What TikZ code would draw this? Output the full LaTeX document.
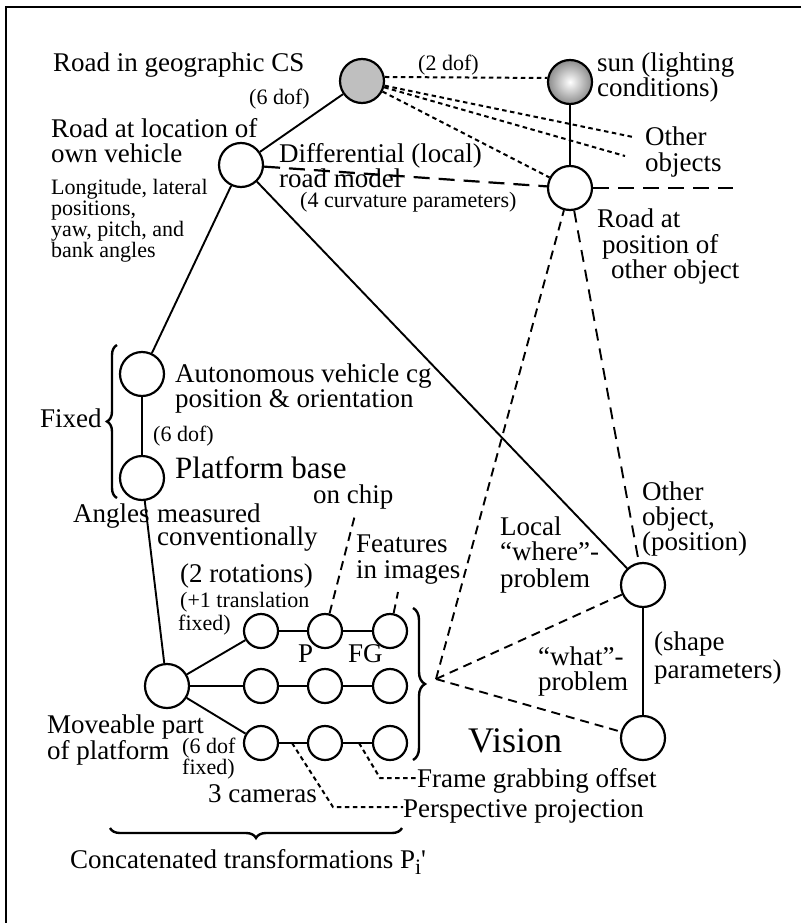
\documentclass[tikz,border=0pt]{standalone}
\usepackage{fontspec}
\setmainfont{Liberation Serif}
\usetikzlibrary{decorations.pathreplacing}

\begin{document}
\begin{tikzpicture}[x=1pt,y=-1pt,
  bignode/.style={circle, draw, line width=2.2pt, minimum size=44pt, inner sep=0pt, fill=white},
  camnode/.style={circle, draw, line width=2.2pt, minimum size=34pt, inner sep=0pt, fill=white},
  link/.style={line width=1.9pt},
  roadlink/.style={line width=2.2pt, dash pattern=on 16pt off 9pt},
  farlink/.style={line width=1.9pt, dash pattern=on 12pt off 8pt},
  vislink/.style={line width=1.9pt, dash pattern=on 9pt off 6pt},
  dotlink/.style={line width=2pt, dash pattern=on 4.5pt off 3.5pt},
  bracestyle/.style={line width=2.4pt, decorate},
  lbl/.style={inner sep=0pt, anchor=base west, font=\fontsize{27}{27}\selectfont},
  small/.style={lbl, font=\fontsize{22}{22}\selectfont},
  big/.style={lbl, font=\fontsize{31}{31}\selectfont},
  huge/.style={lbl, font=\fontsize{36}{36}\selectfont}]

\useasboundingbox (0,0) rectangle (801,923);
\draw[line width=2pt] (801,7) -- (6,7) -- (6,923);

% ---- state nodes ----
\node[bignode, fill=black!25] (geo) at (362,81) {};
\node[bignode, inner color=white, outer color=black!45] (sun) at (570,82) {};
\node[bignode] (roadV) at (241,165) {};
\node[bignode] (roadO) at (570,188) {};
\node[bignode] (cg) at (142,374) {};
\node[bignode] (base) at (142,478) {};
\node[bignode] (move) at (167,686) {};
\node[bignode] (obj) at (643,585) {};
\node[bignode] (shape) at (643,738) {};

% ---- camera chains ----
\node[camnode] (c11) at (261,631) {};
\node[camnode] (c12) at (325,631) {};
\node[camnode] (c13) at (390,631) {};
\node[camnode] (c21) at (261,686) {};
\node[camnode] (c22) at (325,686) {};
\node[camnode] (c23) at (390,686) {};
\node[camnode] (c31) at (261,743) {};
\node[camnode] (c32) at (325,743) {};
\node[camnode] (c33) at (390,743) {};

% ---- free ends ----
\coordinate (roadEnd) at (733,188);
\coordinate (othA) at (633,137);
\coordinate (othB) at (625,156);
\coordinate (vis) at (436,679);
\coordinate (chipEnd) at (355,515);
\coordinate (featEnd) at (398,592);
\coordinate (m1) at (292,743);
\coordinate (k1) at (333,807);
\coordinate (m2) at (359,743);
\coordinate (k2) at (380,778);

% ---- labels ----
\node[lbl] (tGeo) at (53,72) {Road in geographic CS};
\node[small] (tSix) at (249,105) {(6 dof)};
\node[lbl] (tOwnA) at (51,137) {Road at location of};
\node[lbl] (tOwnB) at (51,162) {own vehicle};
\node[small] (tLonA) at (51,194) {Longitude, lateral};
\node[small] (tLonB) at (51,215) {positions,};
\node[small] (tLonC) at (51,236) {yaw, pitch, and};
\node[small] (tLonD) at (51,257) {bank angles};
\node[lbl] (tDifA) at (279,162) {Differential (local)};
\node[lbl] (tDifB) at (279,187) {road model};
\node[small] (tCurv) at (300,207) {(4 curvature parameters)};
\node[small] (tTwo) at (418,71) {(2 dof)};
\node[lbl] (tSunA) at (597,72) {sun (lighting};
\node[lbl] (tSunB) at (597,97) {conditions)};
\node[lbl] (tOthA) at (645,146) {Other};
\node[lbl] (tOthB) at (645,171) {objects};
\node[lbl] (tRoA) at (597,227) {Road at};
\node[lbl] (tRoB) at (602,253) {position of};
\node[lbl] (tRoC) at (611,278) {other object};
\node[lbl] (tCgA) at (175,382) {Autonomous vehicle cg};
\node[lbl] (tCgB) at (175,407) {position \& orientation};
\node[lbl] (tFix) at (40,427) {Fixed};
\node[small] (tSixB) at (153,441) {(6 dof)};
\node[big] (tBase) at (175,478) {Platform base};
\node[lbl] (tChip) at (313,503) {on chip};
\node[lbl] (tAngA) at (73,522) {Angles};
\node[lbl] (tAngB) at (157,522) {measured};
\node[lbl] (tAngC) at (157,545) {conventionally};
\node[lbl] (tFeaA) at (356,552) {Features};
\node[lbl] (tFeaB) at (356,578) {in images};
\node[lbl] (tRot) at (180,582) {(2 rotations)};
\node[small] (tTraA) at (180,607) {(+1 translation};
\node[small] (tTraB) at (178,630) {fixed)};
\node[lbl] (tP) at (298,662) {P};
\node[lbl] (tFG) at (348,662) {FG};
\node[lbl] (tMovA) at (47,733) {Moveable part};
\node[lbl] (tMovB) at (47,759) {of platform};
\node[small] (tDofA) at (182,753) {(6 dof};
\node[small] (tDofB) at (182,774) {fixed)};
\node[lbl] (tCam) at (208,802) {3 cameras};
\node[lbl] (tConc) at (70,868) {Concatenated transformations P\raisebox{-6pt}{\fontsize{22}{22}\selectfont i}\textquotesingle};
\node[lbl] (tLocA) at (500,535) {Local};
\node[lbl] (tLocB) at (500,560) {“where”-};
\node[lbl] (tLocC) at (500,587) {problem};
\node[lbl] (tObjA) at (642,500) {Other};
\node[lbl] (tObjB) at (642,525) {object,};
\node[lbl] (tObjC) at (642,550) {(position)};
\node[lbl] (tWhatA) at (538,665) {“what”-};
\node[lbl] (tWhatB) at (538,690) {problem};
\node[lbl] (tShA) at (654,650) {(shape};
\node[lbl] (tShB) at (654,678) {parameters)};
\node[huge] (tVis) at (468,752) {Vision};
\node[lbl] (tFrame) at (417,787) {Frame grabbing offset};
\node[lbl] (tPersp) at (403,817) {Perspective projection};

% ---- solid links ----
\draw[link] (geo) -- (roadV);
\draw[link] (sun) -- (roadO);
\draw[link] (roadV) -- (cg);
\draw[link] (roadV) -- (obj);
\draw[link] (cg) -- (base);
\draw[link] (base) -- (move);
\draw[link] (move) -- (c11);
\draw[link] (move) -- (c21);
\draw[link] (move) -- (c31);
\draw[link] (c11) -- (c12) -- (c13);
\draw[link] (c21) -- (c22) -- (c23);
\draw[link] (c31) -- (c32) -- (c33);
\draw[link] (obj) -- (shape);

% ---- road model ----
\draw[roadlink] (roadV) -- (roadO);
\draw[roadlink] (roadO) -- (roadEnd);
\draw[farlink] (roadO) -- (obj);

% ---- environment links ----
\draw[dotlink] (geo.10) -- (sun.170);
\draw[dotlink] (geo) -- (othA);
\draw[dotlink] (geo) -- (othB);
\draw[dotlink] (geo) -- (roadO);

% ---- vision links ----
\draw[vislink] (vis) -- (roadO);
\draw[vislink] (vis) -- (obj);
\draw[vislink] (vis) -- (shape);
\draw[vislink] (c12) -- (chipEnd);
\draw[vislink] (c13) -- (featEnd);

% ---- camera annotations ----
\draw[dotlink] (m1) -- (k1) -- (tPersp.west |- k1);
\draw[dotlink] (m2) -- (k2) -- (tFrame.west |- k2);

% ---- braces ----
\draw[bracestyle, decoration={brace, amplitude=10pt}] (117,498) -- (117,345);
\draw[bracestyle, decoration={brace, amplitude=12pt}] (413,608) -- (413,760);
\draw[bracestyle, decoration={brace, amplitude=10pt}] (402,828) -- (110,828);
\end{tikzpicture}
\end{document}
